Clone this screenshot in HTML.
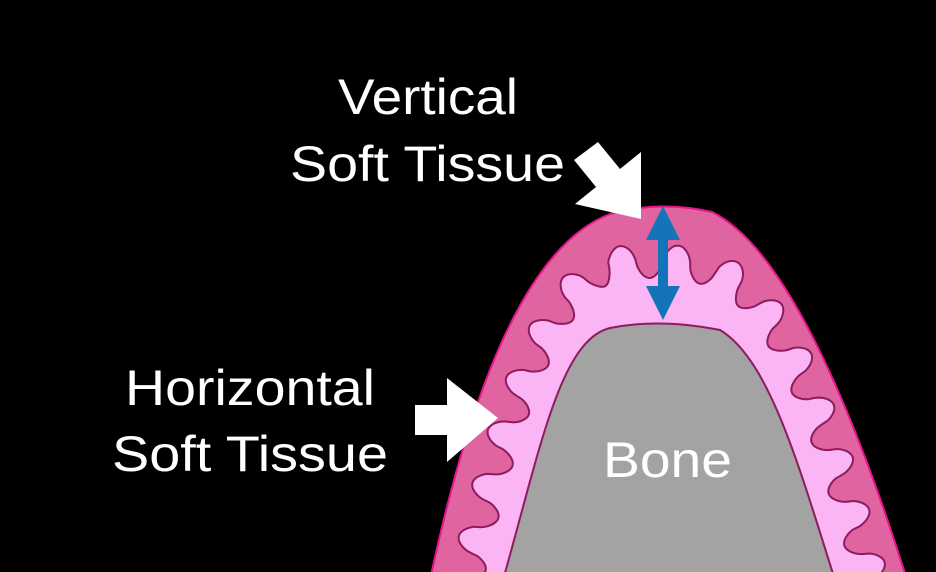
<!DOCTYPE html>
<html><head><meta charset="utf-8"><style>
html,body{margin:0;padding:0;background:#000;}
svg{display:block}
text{font-family:"Liberation Sans",sans-serif;fill:#fff}
</style></head><body>
<svg width="936" height="572" viewBox="0 0 936 572" xmlns="http://www.w3.org/2000/svg">
<rect width="936" height="572" fill="#000"/>
<path d="M430,580 C 462,430 515,250 610,214 Q 660,200 712,212 C 790,250 860,430 907,580 Z" fill="#df64a0" stroke="#e8138a" stroke-width="2"/>
<path id="wave" d="M466,580 C 498,440 540,290 610,265 Q 660,255 715,270 C 790,300 832,440 872,580 Z" fill="#fbb4f4" stroke="#8c1c5e" stroke-width="2"/>
<path d="M503,580 C 540,450 560,340 610,328 Q 660,318 720,330 C 770,360 800,470 835,580 Z" fill="#a3a3a3" stroke="#8c1c5e" stroke-width="2"/>
<polygon points="663,206 680,240 668,240 668,286 680,286 663,320 646,286 658,286 658,240 646,240" fill="#1374b8"/>
<polygon points="641,219 575,204 596,187 574,160 598,142 620,169 641,152" fill="#fff"/>
<polygon points="415,405 447,405 447,378 498,418 447,462 447,435 415,435" fill="#fff"/>
<text x="338" y="114" font-size="50" textLength="180" lengthAdjust="spacingAndGlyphs">Vertical</text>
<text x="290" y="181" font-size="50" textLength="275" lengthAdjust="spacingAndGlyphs">Soft Tissue</text>
<text x="125" y="405" font-size="50" textLength="250" lengthAdjust="spacingAndGlyphs">Horizontal</text>
<text x="112" y="471" font-size="50" textLength="276" lengthAdjust="spacingAndGlyphs">Soft Tissue</text>
<text x="603" y="477" font-size="50" textLength="129" lengthAdjust="spacingAndGlyphs">Bone</text>
</svg>
<script>
(function(){
function bez(p0,p1,p2,p3,t){var u=1-t;return [u*u*u*p0[0]+3*u*u*t*p1[0]+3*u*t*t*p2[0]+t*t*t*p3[0],u*u*u*p0[1]+3*u*u*t*p1[1]+3*u*t*t*p2[1]+t*t*t*p3[1]];}
function q(p0,p1,p2,t){var u=1-t;return [u*u*p0[0]+2*u*t*p1[0]+t*t*p2[0],u*u*p0[1]+2*u*t*p1[1]+t*t*p2[1]];}
var pts=[],i,N=300;
for(i=0;i<=N;i++)pts.push(bez([466,580],[498,440],[540,290],[610,265],i/N));
for(i=1;i<=60;i++)pts.push(q([610,265],[660,255],[715,270],i/60));
for(i=1;i<=N;i++)pts.push(bez([715,270],[790,300],[832,440],[872,580],i/N));
var L=[0];for(i=1;i<pts.length;i++){L.push(L[i-1]+Math.hypot(pts[i][0]-pts[i-1][0],pts[i][1]-pts[i-1][1]));}
var tot=L[L.length-1],per=tot/15,out=[];
for(i=0;i<pts.length;i++){
 var a=pts[Math.max(0,i-1)],b=pts[Math.min(pts.length-1,i+1)];
 var dx=b[0]-a[0],dy=b[1]-a[1],l=Math.hypot(dx,dy)||1;
 var nx=dy/l,ny=-dx/l;
 var s=Math.sin(2*Math.PI*L[i]/per);
 var w=17*Math.sign(s)*Math.pow(Math.abs(s),0.6);
 out.push((pts[i][0]-nx*w).toFixed(1)+","+(pts[i][1]-ny*w).toFixed(1));
}
document.getElementById('wave').setAttribute('d','M'+out.join(' L')+' Z');
})();
</script>
</body></html>
